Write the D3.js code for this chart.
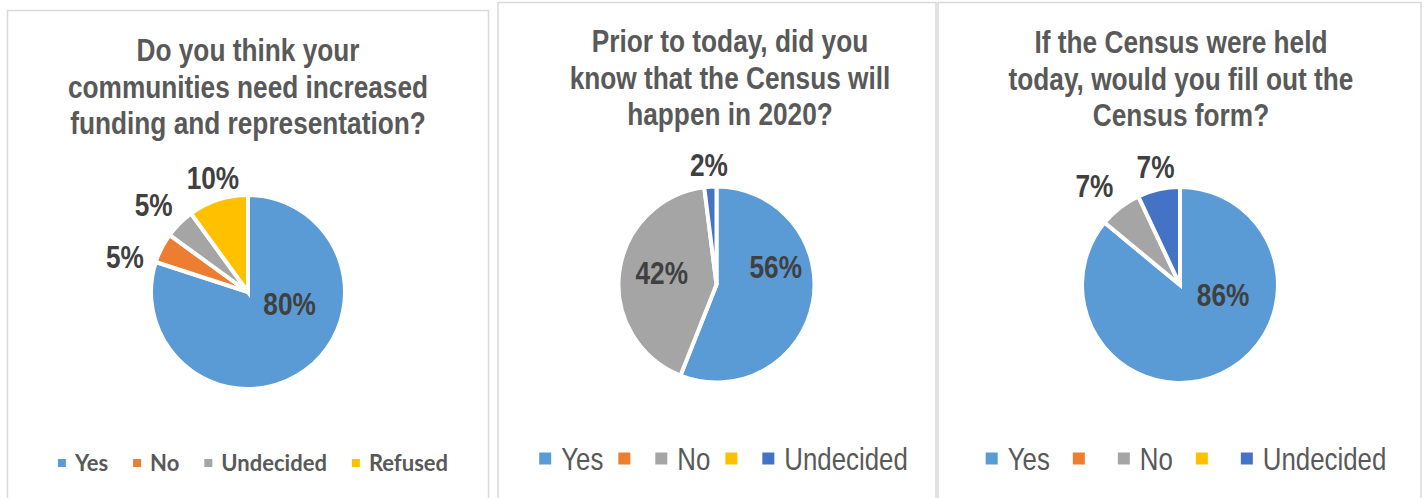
<!DOCTYPE html>
<html>
<head>
<meta charset="utf-8">
<script src="https://cdn.jsdelivr.net/npm/d3@7/dist/d3.min.js"></script>
<style>
  html, body { margin: 0; padding: 0; background: #ffffff; }
  svg { display: block; }
</style>
</head>
<body>
<svg id="chart" width="1427" height="498"></svg>
<script>
// ---- Survey data ----
const categories1 = ["Yes", "No", "Undecided", "Refused"];
const values1 = [80, 5, 5, 10];

const categories2 = ["Yes", "", "No", "", "Undecided"];
const values2 = [56, 0, 42, 0, 2];

const categories3 = ["Yes", "", "No", "", "Undecided"];
const values3 = [86, 0, 7, 0, 7];

const titles1 = ["Do you think your", "communities need increased", "funding and representation?"];
const titles2 = ["Prior to today, did you", "know that the Census will", "happen in 2020?"];
const titles3 = ["If the Census were held", "today, would you fill out the", "Census form?"];

// ---- Styling ----
const colors1 = ["#5B9BD5", "#ED7D31", "#A5A5A5", "#FFC000"];
const colors23 = ["#5B9BD5", "#ED7D31", "#A5A5A5", "#FFC000", "#4472C4"];
const SANS = "'Liberation Sans', Arial, sans-serif";
const NARROW_X = 0.82;   // horizontal squeeze for a narrow face

// Per-chart layout: panel frame, title, pie, labels and legend
const charts = [
  {
    cats: categories1, vals: values1, colors: colors1, title: titles1,
    frame: { x: 7.5, y: 10.5, w: 481, h: 520 },
    titleX: 248, titleY: 61,
    cx: 248, cy: 292, r: 97,
    // label placement: distance from centre and angular shift (deg) from slice mid-angle
    labels: [{ d: 43, s: -39 }, { d: 128, s: -11 }, { d: 129, s: -2 }, { d: 120, s: 1 }],
    legend: { cx: 253, y: 463, font: "Lato, 'Open Sans', sans-serif", weight: 700, size: 22, squeeze: 1, marker: 8, gap: 9, pad: 25 }
  },
  {
    cats: categories2, vals: values2, colors: colors23, title: titles2,
    frame: { x: 498, y: 2.5, w: 438, h: 520 },
    titleX: 730, titleY: 52,
    cx: 716.5, cy: 284.5, r: 98,
    labels: [{ d: 62, s: -28 }, null, { d: 56, s: 5 }, null, { d: 120, s: 0 }],
    legend: { cx: 723.5, y: 458.5, font: SANS, weight: 400, size: 31.5, squeeze: NARROW_X, marker: 12, gap: 10, pad: 15 }
  },
  {
    cats: categories3, vals: values3, colors: colors23, title: titles3,
    frame: { x: 938, y: 2.5, w: 483, h: 520 },
    titleX: 1181, titleY: 53,
    cx: 1180, cy: 285, r: 98,
    labels: [{ d: 44, s: -53 }, null, { d: 131, s: -3 }, null, { d: 121.5, s: 1 }],
    legend: { cx: 1186, y: 458.5, font: SANS, weight: 400, size: 31.5, squeeze: NARROW_X, marker: 12, gap: 10, pad: 23 }
  }
];

// Text drawn in a horizontally condensed group
function squeezedText(parent, x, y, str, opt) {
  const g = parent.append("g")
    .attr("transform", `translate(${x},${y}) scale(${opt.squeeze},1)`);
  const t = g.append("text")
    .attr("text-anchor", opt.anchor || "start")
    .attr("dy", opt.dy || 0)
    .attr("font-family", opt.font).attr("font-weight", opt.weight)
    .attr("font-size", opt.size).attr("fill", opt.fill)
    .text(str);
  return { g, t, width: str ? t.node().getComputedTextLength() * opt.squeeze : 0 };
}

const svg = d3.select("#chart");

charts.forEach(c => {
  const g = svg.append("g");

  // panel frame
  g.append("rect")
    .attr("x", c.frame.x).attr("y", c.frame.y)
    .attr("width", c.frame.w).attr("height", c.frame.h)
    .attr("fill", "#ffffff")
    .attr("stroke", "#d9d9d9").attr("stroke-width", 1.5);

  // title
  c.title.forEach((line, i) => {
    squeezedText(g, c.titleX, c.titleY + i * 36.5, line, {
      anchor: "middle", font: SANS, weight: 700, size: 32, fill: "#595959", squeeze: NARROW_X
    });
  });

  // pie
  const total = d3.sum(c.vals);
  const pie = d3.pie().sort(null).value(d => d.v);
  const data = c.vals.map((v, i) => ({ v, i, cat: c.cats[i] }));
  const arcs = pie(data);
  const arc = d3.arc().innerRadius(0).outerRadius(c.r);

  const pg = g.append("g").attr("transform", `translate(${c.cx},${c.cy})`);
  pg.selectAll("path.slice")
    .data(arcs.filter(a => a.data.v > 0))
    .join("path")
    .attr("class", "slice")
    .attr("d", arc)
    .attr("fill", a => c.colors[a.data.i])
    .attr("stroke", "#ffffff")
    .attr("stroke-width", 4)
    .attr("stroke-linejoin", "miter");

  // percentage labels, positioned from each slice's mid-angle
  arcs.filter(a => a.data.v > 0 && c.labels[a.data.i]).forEach(a => {
    const spec = c.labels[a.data.i];
    const ang = (a.startAngle + a.endAngle) / 2 + spec.s * Math.PI / 180;
    squeezedText(pg, Math.sin(ang) * spec.d, -Math.cos(ang) * spec.d,
      d3.format(".0%")(a.data.v / total), {
        anchor: "middle", dy: "0.36em", font: SANS, weight: 700, size: 32,
        fill: "#404040", squeeze: NARROW_X
      });
  });

  // legend: measure items first, then centre the row
  const L = c.legend;
  const lg = g.append("g");
  const items = c.cats.map((cat, i) => {
    const rect = lg.append("rect")
      .attr("width", L.marker).attr("height", L.marker)
      .attr("y", L.y - L.marker / 2)
      .attr("fill", c.colors[i]);
    const txt = squeezedText(lg, 0, L.y, cat, {
      dy: "0.35em", font: L.font, weight: L.weight, size: L.size,
      fill: "#595959", squeeze: L.squeeze
    });
    return { rect, txt, w: L.marker + L.gap + txt.width };
  });
  const totalW = d3.sum(items, d => d.w) + L.pad * (items.length - 1);
  let x = L.cx - totalW / 2;
  items.forEach(d => {
    d.rect.attr("x", x);
    d.txt.g.attr("transform", `translate(${x + L.marker + L.gap},${L.y}) scale(${L.squeeze},1)`);
    x += d.w + L.pad;
  });
});
</script>
</body>
</html>
